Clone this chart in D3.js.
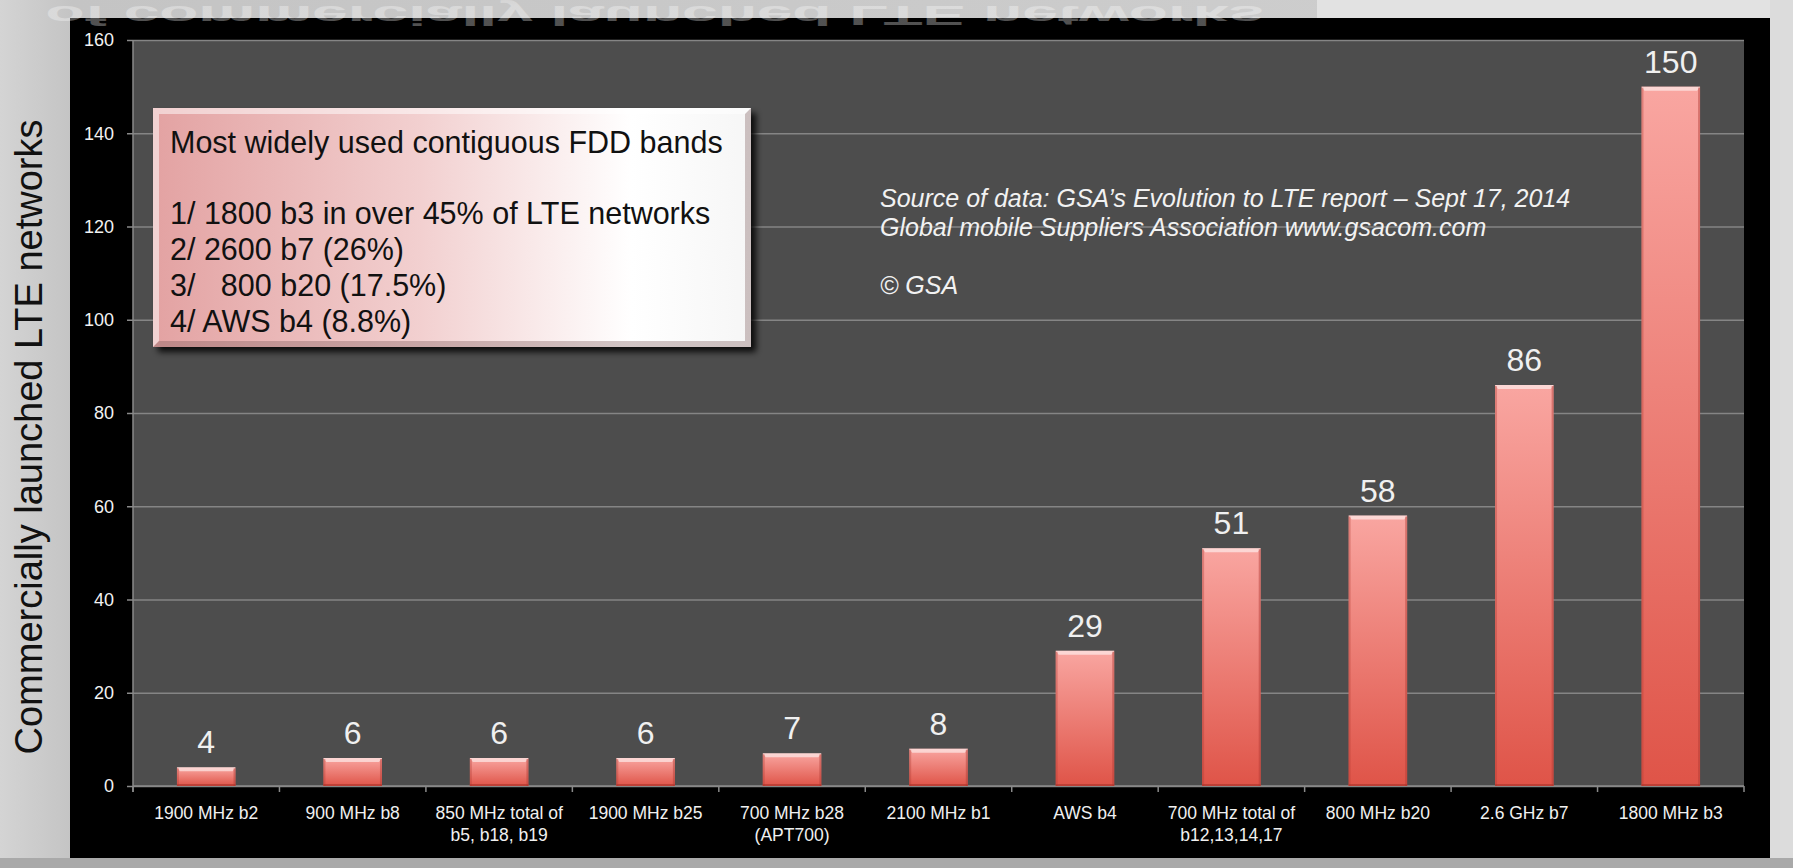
<!DOCTYPE html>
<html>
<head>
<meta charset="utf-8">
<script src="https://cdn.jsdelivr.net/npm/d3@7"></script>
<style>
  body { margin: 0; background: #c8c8c8; }
  svg { display: block; font-family: "Liberation Sans", Arial, sans-serif; }
</style>
</head>
<body>
<div class="chart"></div>
<script>
// data
var categories = ["1900 MHz b2", "900 MHz b8", "850 MHz total of\nb5, b18, b19", "1900 MHz b25",
  "700 MHz b28\n(APT700)", "2100 MHz b1", "AWS b4", "700 MHz total of\nb12,13,14,17",
  "800 MHz b20", "2.6 GHz b7", "1800 MHz b3"]
var values = [4, 6, 6, 6, 7, 8, 29, 51, 58, 86, 150]
var yTicks = [0, 20, 40, 60, 80, 100, 120, 140, 160]

var legendLines = ["Most widely used contiguous FDD bands", "", "1/ 1800 b3 in over 45% of LTE networks",
  "2/ 2600 b7 (26%)", "3/   800 b20 (17.5%)", "4/ AWS b4 (8.8%)"]
var sourceLines = ["Source of data: GSA\u2019s Evolution to LTE report \u2013 Sept 17, 2014",
  "Global mobile Suppliers Association www.gsacom.com", "", "\u00a9 GSA"]
var yTitle = "Commercially launched LTE networks"
var reflectedTitle = "of commercially launched LTE networks"

var width = 1793
var height = 868
var plot = {left: 133, right: 1744, top: 40, bottom: 786}

var svg = d3.select(".chart").append("svg")
  .attr("width", width)
  .attr("height", height)

var defs = svg.append("defs")

var bgGrad = defs.append("linearGradient").attr("id", "bgGrad")
bgGrad.append("stop").attr("offset", "0%").attr("stop-color", "#d4d4d4")
bgGrad.append("stop").attr("offset", "4%").attr("stop-color", "#c4c4c4")
bgGrad.append("stop").attr("offset", "100%").attr("stop-color", "#d0d0d0")

var barGrad = defs.append("linearGradient").attr("id", "barGrad")
  .attr("x1", 0).attr("y1", 0).attr("x2", 0).attr("y2", 1)
barGrad.append("stop").attr("offset", "0%").attr("stop-color", "#f9a6a1")
barGrad.append("stop").attr("offset", "100%").attr("stop-color", "#df5448")

var boxGrad = defs.append("linearGradient").attr("id", "boxGrad")
boxGrad.append("stop").attr("offset", "0%").attr("stop-color", "#e3a2a2")
boxGrad.append("stop").attr("offset", "45%").attr("stop-color", "#f2d0d0")
boxGrad.append("stop").attr("offset", "80%").attr("stop-color", "#ffffff")
boxGrad.append("stop").attr("offset", "100%").attr("stop-color", "#f6f6f6")

var reflGrad = defs.append("linearGradient").attr("id", "reflGrad")
  .attr("gradientUnits", "userSpaceOnUse")
  .attr("x1", 0).attr("y1", 0).attr("x2", 0).attr("y2", 40)
reflGrad.append("stop").attr("offset", "0%").attr("stop-color", "#fff").attr("stop-opacity", 0.32)
reflGrad.append("stop").attr("offset", "100%").attr("stop-color", "#fff").attr("stop-opacity", 0.14)

var shadow = defs.append("filter").attr("id", "shadow")
  .attr("x", "-5%").attr("y", "-5%").attr("width", "115%").attr("height", "120%")
shadow.append("feDropShadow").attr("dx", 5).attr("dy", 5).attr("stdDeviation", 3)
  .attr("flood-color", "#000").attr("flood-opacity", 0.85)

defs.append("clipPath").attr("id", "topClip")
  .append("rect").attr("x", 0).attr("y", 0).attr("width", width).attr("height", plot.top)

// slide background
svg.append("rect").attr("width", width).attr("height", height).attr("fill", "url(#bgGrad)")
svg.append("rect").attr("x", 1317).attr("y", 0).attr("width", width - 1317).attr("height", 18).attr("fill", "#e2e2e2")
svg.append("rect").attr("x", 1770).attr("y", 0).attr("width", width - 1770).attr("height", height).attr("fill", "#dcdcdc")
svg.append("rect").attr("x", 0).attr("y", 858).attr("width", width).attr("height", 10).attr("fill", "#a9a9a9")

// black chart panel
svg.append("rect").attr("x", 70).attr("y", 18).attr("width", 1700).attr("height", 840).attr("fill", "#000")

// mirrored title peeking in from the top
svg.append("g").attr("clip-path", "url(#topClip)")
  .append("text")
  .attr("transform", "translate(1264,6) scale(1,-0.42)")
  .attr("text-anchor", "end")
  .style("font-size", "64px")
  .style("font-weight", "bold")
  .attr("fill", "url(#reflGrad)")
  .text(reflectedTitle)

// plot area
svg.append("rect")
  .attr("x", plot.left).attr("y", plot.top)
  .attr("width", plot.right - plot.left).attr("height", plot.bottom - plot.top)
  .attr("fill", "#4d4d4d")

var x = d3.scaleBand()
  .domain(categories)
  .range([plot.left, plot.right])
  .paddingInner(0.6)
  .paddingOuter(0.3)

var y = d3.scaleLinear()
  .domain([0, 160])
  .range([plot.bottom, plot.top])

// gridlines
svg.append("g")
  .attr("transform", "translate(" + plot.left + ",0)")
  .call(d3.axisLeft(y).tickValues(yTicks).tickSize(-(plot.right - plot.left)).tickFormat(""))
  .call(g => g.select(".domain").remove())
  .selectAll("line").attr("stroke", "#858585").attr("stroke-width", 1.5)

// y axis
var yAxis = svg.append("g")
  .attr("transform", "translate(" + plot.left + ",0)")
  .call(d3.axisLeft(y).tickValues(yTicks).tickSize(6).tickPadding(13))
yAxis.select(".domain").attr("d", "M0," + plot.top + "V" + (plot.bottom + 6)).attr("stroke", "#8a8a8a").attr("stroke-width", 1.5)
yAxis.selectAll("line").attr("stroke", "#8a8a8a").attr("stroke-width", 1.5)
yAxis.selectAll("text").attr("fill", "#f2f2f2").style("font-size", "18px")

// x axis base line + boundary ticks
svg.append("line")
  .attr("x1", plot.left).attr("x2", plot.right)
  .attr("y1", plot.bottom).attr("y2", plot.bottom)
  .attr("stroke", "#8a8a8a").attr("stroke-width", 1.5)

svg.selectAll(".xbound")
  .data(d3.range(categories.length + 1))
  .enter().append("line")
  .attr("class", "xbound")
  .attr("x1", i => plot.left + i * x.step())
  .attr("x2", i => plot.left + i * x.step())
  .attr("y1", plot.bottom).attr("y2", plot.bottom + 6)
  .attr("stroke", "#8a8a8a").attr("stroke-width", 1.5)

// x labels
var xl = svg.selectAll(".xlabel")
  .data(categories)
  .enter().append("text")
  .attr("class", "xlabel")
  .attr("text-anchor", "middle")
  .attr("fill", "#f0f0f0")
  .style("font-size", "17.5px")
xl.selectAll("tspan")
  .data(d => d.split("\n").map(t => ({t: t, c: d})))
  .enter().append("tspan")
  .attr("x", d => x(d.c) + x.bandwidth() / 2)
  .attr("y", (d, i) => 819 + i * 22)
  .text(d => d.t)

// bars
var bars = svg.selectAll(".bar")
  .data(values.map((v, i) => ({c: categories[i], v: v})))
  .enter().append("g")
  .attr("class", "bar")

bars.append("rect")
  .attr("x", d => x(d.c))
  .attr("y", d => y(d.v))
  .attr("width", x.bandwidth())
  .attr("height", d => y(0) - y(d.v))
  .attr("fill", "url(#barGrad)")

// bevel: light top, darker sides and foot
bars.append("path")
  .attr("d", d => {
    var x0 = x(d.c), x1 = x0 + x.bandwidth(), t = y(d.v)
    return "M" + x0 + "," + t + "H" + x1 + "L" + (x1 - 3) + "," + (t + 4) + "H" + (x0 + 3) + "Z"
  })
  .attr("fill", "#fff").attr("opacity", 0.55)
bars.append("rect")
  .attr("x", d => x(d.c))
  .attr("y", d => y(d.v) + 1)
  .attr("width", 2)
  .attr("height", d => y(0) - y(d.v) - 1)
  .attr("fill", "#b03a32").attr("opacity", 0.35)
bars.append("rect")
  .attr("x", d => x(d.c) + x.bandwidth() - 2)
  .attr("y", d => y(d.v) + 1)
  .attr("width", 2)
  .attr("height", d => y(0) - y(d.v) - 1)
  .attr("fill", "#b03a32").attr("opacity", 0.45)
bars.append("rect")
  .attr("x", d => x(d.c))
  .attr("y", y(0) - 2)
  .attr("width", x.bandwidth())
  .attr("height", 2)
  .attr("fill", "#a8322a").attr("opacity", 0.6)

// value labels
bars.append("text")
  .attr("x", d => x(d.c) + x.bandwidth() / 2)
  .attr("y", d => y(d.v) - 14)
  .attr("text-anchor", "middle")
  .attr("fill", "#f0f0f0")
  .style("font-size", "32px")
  .text(d => d.v)

// y title on the slide
svg.append("text")
  .attr("transform", "translate(42,437) rotate(-90)")
  .attr("text-anchor", "middle")
  .attr("fill", "#111")
  .style("font-size", "38px")
  .text(yTitle)

// callout box
var box = {x: 153, y: 108, w: 598, h: 239}
var bg = svg.append("g")
bg.append("rect")
  .attr("x", box.x).attr("y", box.y).attr("width", box.w).attr("height", box.h)
  .attr("fill", "url(#boxGrad)")
  .attr("filter", "url(#shadow)")
bg.append("path")
  .attr("d", "M" + box.x + "," + box.y + "h" + box.w + "l-6,6h" + (-(box.w - 12)) + "v" + (box.h - 12) + "l-6,6Z")
  .attr("fill", "#fff").attr("opacity", 0.5)
bg.append("path")
  .attr("d", "M" + (box.x + box.w) + "," + box.y + "v" + box.h + "h" + (-box.w) + "l6,-6h" + (box.w - 12) + "v" + (-(box.h - 12)) + "Z")
  .attr("fill", "#7a5a5a").attr("opacity", 0.35)

bg.selectAll(".leg")
  .data(legendLines)
  .enter().append("text")
  .attr("class", "leg")
  .attr("x", 170)
  .attr("y", (d, i) => i === 0 ? 153 : 224 + (i - 2) * 36)
  .attr("fill", "#111")
  .style("font-size", "30.5px")
  .style("white-space", "pre")
  .text(d => d)

// source note
svg.selectAll(".src")
  .data(sourceLines)
  .enter().append("text")
  .attr("class", "src")
  .attr("x", 880)
  .attr("y", (d, i) => 207 + i * 29)
  .attr("fill", "#f2f2f2")
  .style("font-size", "25px")
  .style("font-style", "italic")
  .text(d => d)
</script>
</body>
</html>
